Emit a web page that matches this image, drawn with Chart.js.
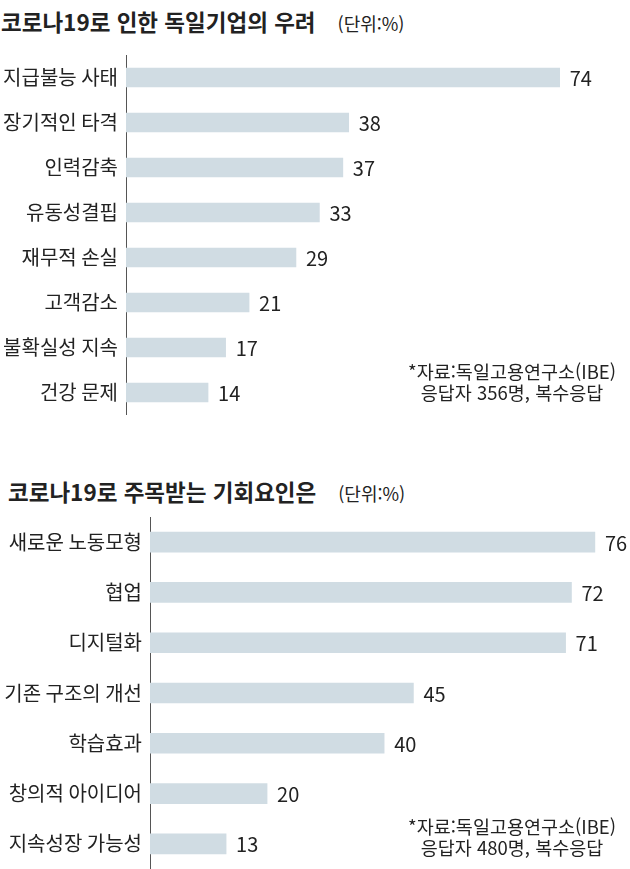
<!DOCTYPE html>
<html lang="ko">
<head>
<meta charset="utf-8">
<script src="https://cdn.jsdelivr.net/npm/chart.js@4.4.1/dist/chart.umd.min.js"></script>
<style>
  body { margin: 0; background: #fff; font-family: "Noto Sans CJK KR", "Noto Sans", sans-serif; color: #222; }
  #wrap { position: relative; width: 630px; height: 869px; overflow: hidden; }
  .title { position: absolute; font-size: 22.5px; font-weight: 700; white-space: nowrap; line-height: 1; }
  .unit { font-size: 18px; font-weight: 400; margin-left: 22px; }
  .note { position: absolute; width: 240px; text-align: center; font-size: 18.5px; line-height: 21px; white-space: nowrap; }
  canvas { position: absolute; left: 0; }
</style>
</head>
<body>
<div id="wrap">
  <div class="title" style="left:1px; top:10px;">코로나19로 인한 독일기업의 우려<span class="unit">(단위:%)</span></div>
  <canvas id="worryChart" width="630" height="360" style="top:55px;"></canvas>
  <div class="note" style="left:392px; top:361px;">*자료:독일고용연구소(IBE)<br>응답자 356명, 복수응답</div>

  <div class="title" style="left:8px; top:480px;">코로나19로 주목받는 기회요인은<span class="unit">(단위:%)</span></div>
  <canvas id="chanceChart" width="630" height="352" style="top:517px;"></canvas>
  <div class="note" style="left:392px; top:816px;">*자료:독일고용연구소(IBE)<br>응답자 480명, 복수응답</div>
</div>
<script>
  // 우려 요인
  const worryLabels = ["지급불능 사태", "장기적인 타격", "인력감축", "유동성결핍", "재무적 손실", "고객감소", "불확실성 지속", "건강 문제"];
  const worryValues = [74, 38, 37, 33, 29, 21, 17, 14];

  // 기회 요인
  const chanceLabels = ["새로운 노동모형", "협업", "디지털화", "기존 구조의 개선", "학습효과", "창의적 아이디어", "지속성장 가능성"];
  const chanceValues = [76, 72, 71, 45, 40, 20, 13];

  const barColor = "#d0dce3";
  const textColor = "#222";
  const fontFamily = '"Noto Sans CJK KR", "Noto Sans", sans-serif';

  const valueLabels = {
    id: "valueLabels",
    afterDatasetsDraw: (chart) => {
      const { ctx } = chart;
      const meta = chart.getDatasetMeta(0);
      const data = chart.data.datasets[0].data;
      ctx.save();
      ctx.fillStyle = textColor;
      ctx.font = "20px " + fontFamily;
      ctx.textAlign = "left";
      ctx.textBaseline = "middle";
      meta.data.forEach((bar, i) => {
        ctx.fillText(data[i], bar.x + 10, bar.y + 1);
      });
      ctx.restore();
    },
  };

  const makeChart = (id, labels, values, axisWidth, xMax, thickness) => {
    const ctx = document.getElementById(id).getContext("2d");
    return new Chart(ctx, {
      type: "bar",
      data: {
        labels: labels,
        datasets: [
          {
            data: values,
            backgroundColor: barColor,
            borderWidth: 0,
            barThickness: thickness,
          },
        ],
      },
      options: {
        indexAxis: "y",
        responsive: false,
        animation: false,
        layout: { padding: 0 },
        scales: {
          x: { display: false, min: 0, max: xMax },
          y: {
            grid: { display: false, drawTicks: false },
            border: { display: true, color: "#555", width: 1 },
            ticks: {
              color: textColor,
              font: { family: fontFamily, size: 20 },
              padding: 8,
            },
            afterFit: (scale) => {
              scale.width = axisWidth;
              // 라벨 높이 때문에 생기는 위아래 여백 제거
              scale.paddingTop = 0;
              scale.paddingBottom = 0;
            },
          },
        },
        plugins: {
          legend: { display: false },
          tooltip: { enabled: false },
        },
      },
      plugins: [valueLabels],
    });
  };

  makeChart("worryChart", worryLabels, worryValues, 126, 86, 19);
  makeChart("chanceChart", chanceLabels, chanceValues, 150, 82, 20);
</script>
</body>
</html>
